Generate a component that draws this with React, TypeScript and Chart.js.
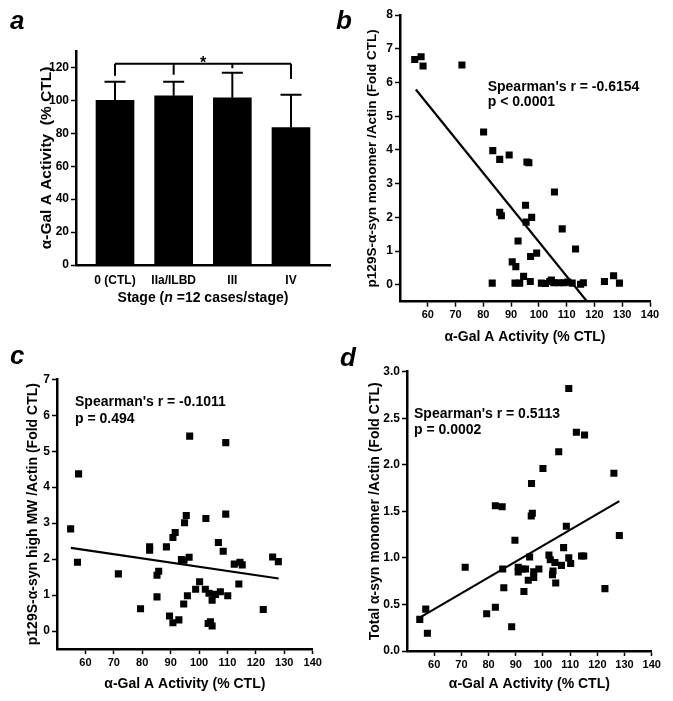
import React, { useEffect, useRef } from 'react';
import { Chart, registerables } from 'chart.js';

Chart.register(...registerables);

const FONT = "'Liberation Sans', Arial, Helvetica, sans-serif";
Chart.defaults.font.family = FONT;
Chart.defaults.font.weight = 'bold';
Chart.defaults.color = '#000';

// ---------- Panel a ----------
const stages = ['0 (CTL)', 'IIa/ILBD', 'III', 'IV'];
const stagePos = [1, 2, 3, 4];
const stageMeans = [100, 102.8, 101.6, 83.5];
const stageErr = [11.3, 8.5, 15.2, 19.9];
const aYTicks = [0, 10, 20, 30, 40, 50, 60, 70, 80, 90, 100, 110, 120, 130];
const bracketLevel = 122.2;
const bracketDrops = [115, 115.5, 119.5, 113];
const starLevel = 125;

// ---------- Panel b ----------
const bX = [55.3, 57.6, 58.3, 72.3, 80.1, 83.4, 85.9, 89.3, 95.7, 96.4, 105.6, 95.2, 85.9, 86.5, 95.4, 97.4, 108.4, 92.5, 113.2, 90.4, 91.7, 97.0, 99.2, 83.2, 91.4, 93.1, 94.5, 96.9, 100.9, 102.4, 103.9, 104.5, 105.4, 107.2, 109.0, 110.4, 112.0, 115.0, 116.0, 123.6, 126.9, 129.0];
const bY = [6.68, 6.76, 6.49, 6.52, 4.53, 3.98, 3.72, 3.85, 3.64, 3.62, 2.75, 2.36, 2.15, 2.05, 1.86, 2.0, 1.66, 1.30, 1.06, 0.68, 0.54, 0.84, 0.94, 0.05, 0.05, 0.05, 0.25, 0.1, 0.05, 0.04, 0.1, 0.14, 0.06, 0.06, 0.06, 0.08, 0.05, 0.02, 0.06, 0.1, 0.27, 0.05];
const bFitX = [55.7, 117.4];
const bFitY = [5.79, -0.5];
const bYTicks = [0, 1, 2, 3, 4, 5, 6, 7, 8];

// ---------- Panel c ----------
const cX = [54.8, 57.6, 57.2, 71.6, 79.4, 82.6, 82.6, 85.2, 85.8, 85.2, 88.5, 89.6, 90.8, 90.8, 91.6, 92.9, 93.8, 94.6, 94.9, 95.5, 94.7, 95.9, 96.5, 96.7, 98.8, 100.2, 102.2, 102.4, 103.2, 103.5, 104.0, 104.6, 104.6, 105.8, 106.8, 107.5, 108.5, 109.4, 109.4, 110.1, 112.4, 114.0, 114.4, 115.2, 122.6, 125.9, 127.9];
const cY = [2.84, 4.37, 1.91, 1.59, 0.62, 2.34, 2.25, 1.55, 1.66, 0.95, 2.34, 0.42, 0.23, 2.60, 2.74, 0.31, 1.99, 0.75, 3.01, 3.21, 1.97, 0.98, 2.05, 5.42, 1.16, 1.37, 1.16, 3.13, 0.21, 1.05, 0.26, 0.14, 0.86, 1.02, 2.46, 1.09, 2.22, 5.24, 3.25, 0.98, 1.86, 1.31, 1.91, 1.84, 0.60, 2.06, 1.93];
const cFitX = [54.9, 128.0];
const cFitY = [2.31, 1.46];
const cYTicks = [0, 1, 2, 3, 4, 5, 6, 7];

// ---------- Panel d ----------
const dX = [54.7, 56.9, 57.5, 71.4, 79.3, 82.5, 82.5, 85.0, 85.2, 85.6, 88.5, 89.7, 90.9, 90.9, 92.4, 93.6, 93.0, 94.6, 95.1, 95.7, 96.1, 95.8, 96.6, 96.6, 98.5, 100.0, 102.2, 102.7, 103.5, 103.7, 104.4, 104.7, 105.8, 106.8, 107.6, 108.6, 109.5, 109.5, 110.2, 112.3, 114.2, 115.0, 115.3, 122.8, 126.1, 128.1];
const dY = [0.34, 0.45, 0.19, 0.90, 0.40, 0.47, 1.56, 1.55, 0.88, 0.68, 0.26, 1.19, 0.90, 0.85, 0.88, 0.88, 0.64, 0.76, 1.01, 1.45, 1.48, 1.80, 0.85, 0.79, 0.88, 1.96, 1.03, 0.98, 0.82, 0.86, 0.95, 0.73, 2.14, 0.92, 1.11, 1.34, 2.82, 1.00, 0.94, 2.35, 1.02, 1.02, 2.32, 0.67, 1.91, 1.24];
const dFitX = [54.2, 128.1];
const dFitY = [0.35, 1.61];
const dYTicks = [0, 0.5, 1, 1.5, 2, 2.5, 3];

const activityTicks = [60, 70, 80, 90, 100, 110, 120, 130, 140];
const activityTitle = 'α-Gal A Activity (% CTL)';

const fixedW = (w: number) => (s: any) => { s.width = w; };
const fixedH = (h: number) => (s: any) => { s.height = h; };
const setTicks = (vals: number[]) => (s: any) => { s.ticks = vals.map((v) => ({ value: v })); };

const errorPlugin = {
  id: 'errAndBracket',
  afterDatasetsDraw(chart: any) {
    const { ctx, scales } = chart;
    const xs = scales.x, ys = scales.y;
    ctx.save();
    ctx.strokeStyle = '#000';
    ctx.lineWidth = 2;
    stagePos.forEach((p, i) => {
      const x = xs.getPixelForValue(p);
      const y0 = ys.getPixelForValue(stageMeans[i]);
      const y1 = ys.getPixelForValue(stageMeans[i] + stageErr[i]);
      ctx.beginPath();
      ctx.moveTo(x, y0);
      ctx.lineTo(x, y1);
      ctx.moveTo(x - 10.5, y1);
      ctx.lineTo(x + 10.5, y1);
      ctx.stroke();
    });
    const yb = ys.getPixelForValue(bracketLevel);
    ctx.beginPath();
    ctx.moveTo(xs.getPixelForValue(stagePos[0]), yb);
    ctx.lineTo(xs.getPixelForValue(stagePos[3]), yb);
    stagePos.forEach((p, i) => {
      const x = xs.getPixelForValue(p);
      ctx.moveTo(x, yb);
      ctx.lineTo(x, ys.getPixelForValue(bracketDrops[i]));
    });
    ctx.stroke();
    ctx.fillStyle = '#000';
    ctx.font = `bold 16px ${FONT}`;
    ctx.textAlign = 'center';
    ctx.textBaseline = 'alphabetic';
    ctx.fillText('*', xs.getPixelForValue(2.5), ys.getPixelForValue(starLevel) + 9);
    ctx.restore();
  },
};

function barConfig(): any {
  return {
    type: 'bar',
    data: {
      datasets: [
        {
          data: stagePos.map((x, i) => ({ x, y: stageMeans[i] })),
          backgroundColor: '#000',
          borderWidth: 0,
          barThickness: 38,
        },
      ],
    },
    options: {
      animation: false,
      responsive: false,
      devicePixelRatio: 1,
      layout: { padding: { left: 33.2, top: 51, right: 10, bottom: 35 } },
      plugins: { legend: { display: false }, tooltip: { enabled: false } },
      scales: {
        x: {
          type: 'linear',
          offset: false,
          min: 0.335,
          max: 4.665,
          afterBuildTicks: setTicks(stagePos),
          afterFit: fixedH(30),
          grid: { display: false, drawTicks: false },
          border: { display: true, color: '#000', width: 2.5 },
          ticks: {
            padding: 8,
            autoSkip: false,
            maxRotation: 0,
            font: { size: 12, weight: 'bold' },
            color: '#000',
            callback: (v: number) => stages[stagePos.indexOf(v)] ?? '',
          },
        },
        y: {
          min: 0,
          max: 130,
          afterBuildTicks: setTicks(aYTicks),
          afterFit: fixedW(42.8),
          grid: { drawOnChartArea: false, drawTicks: true, tickLength: 5, tickColor: '#000', tickWidth: 1.5 },
          border: { color: '#000', width: 2.5 },
          ticks: {
            padding: 2,
            font: { size: 12, weight: 'bold' },
            color: '#000',
            callback: (v: number) => (v % 20 === 0 ? String(v) : ''),
          },
          title: {
            display: true,
            text: 'α-Gal A Activity  (% CTL)',
            font: { size: 15.5, weight: 'bold' },
            color: '#000',
            padding: { top: 4, bottom: 4 },
          },
        },
      },
    },
    plugins: [errorPlugin],
  };
}

function scatterConfig(o: {
  xs: number[]; ys: number[]; fx: number[]; fy: number[];
  yMin: number; yMax: number; yTicks: number[]; yTitle: string; yTitleSize: number;
  pad: { left: number; top: number; right: number; bottom: number };
  yW: number; xH: number; dec: number;
}): any {
  return {
    type: 'scatter',
    data: {
      datasets: [
        {
          data: o.xs.map((x, i) => ({ x, y: o.ys[i] })),
          pointStyle: 'rect',
          pointRadius: 5,
          backgroundColor: '#000',
          borderWidth: 0,
          showLine: false,
        },
        {
          data: o.fx.map((x, i) => ({ x, y: o.fy[i] })),
          showLine: true,
          borderColor: '#000',
          borderWidth: 2.2,
          pointRadius: 0,
          fill: false,
        },
      ],
    },
    options: {
      animation: false,
      responsive: false,
      devicePixelRatio: 1,
      layout: { padding: o.pad },
      plugins: { legend: { display: false }, tooltip: { enabled: false } },
      scales: {
        x: {
          type: 'linear',
          offset: false,
          min: 50,
          max: 140,
          afterBuildTicks: setTicks(activityTicks),
          afterFit: fixedH(o.xH),
          grid: { drawOnChartArea: false, drawTicks: true, tickLength: 5, tickColor: '#000', tickWidth: 1.5 },
          border: { color: '#000', width: 2.5 },
          ticks: { padding: 2, autoSkip: false, maxRotation: 0, font: { size: 11, weight: 'bold' }, color: '#000' },
          title: {
            display: true,
            text: activityTitle,
            font: { size: 14, weight: 'bold' },
            color: '#000',
            padding: { top: 4, bottom: 4 },
          },
        },
        y: {
          min: o.yMin,
          max: o.yMax,
          afterBuildTicks: setTicks(o.yTicks),
          afterFit: fixedW(o.yW),
          grid: { drawOnChartArea: false, drawTicks: true, tickLength: 5, tickColor: '#000', tickWidth: 1.5 },
          border: { color: '#000', width: 2.5 },
          ticks: {
            padding: 2,
            font: { size: 12, weight: 'bold' },
            color: '#000',
            callback: (v: number) => v.toFixed(o.dec),
          },
          title: {
            display: true,
            text: o.yTitle,
            font: { size: o.yTitleSize, weight: 'bold' },
            color: '#000',
            padding: { top: 4, bottom: 4 },
          },
        },
      },
    },
  };
}

function ChartCanvas(props: { left: number; top: number; width: number; height: number; make: () => any }) {
  const ref = useRef<HTMLCanvasElement | null>(null);
  useEffect(() => {
    const chart = new Chart(ref.current as HTMLCanvasElement, props.make());
    return () => chart.destroy();
  }, []);
  return (
    <canvas
      ref={ref}
      width={props.width}
      height={props.height}
      style={{ position: 'absolute', left: props.left, top: props.top, width: props.width, height: props.height }}
    />
  );
}

function Txt(props: { x: number; cy: number; size: number; children: any; center?: boolean }) {
  return (
    <div
      style={{
        position: 'absolute',
        left: props.x,
        top: props.cy - props.size * 0.49,
        fontFamily: FONT,
        fontWeight: 'bold',
        fontSize: props.size,
        lineHeight: 1,
        whiteSpace: 'nowrap',
        color: '#000',
        transform: props.center ? 'translateX(-50%)' : undefined,
      }}
    >
      {props.children}
    </div>
  );
}

function Label(props: { x: number; top: number; children: any }) {
  return (
    <div
      style={{
        position: 'absolute',
        left: props.x,
        top: props.top,
        fontFamily: FONT,
        fontWeight: 'bold',
        fontStyle: 'italic',
        fontSize: 26,
        lineHeight: 1,
        color: '#000',
      }}
    >
      {props.children}
    </div>
  );
}

export default function App() {
  return (
    <div style={{ position: 'absolute', left: 0, top: 0, width: 673, height: 701, background: '#fff', overflow: 'hidden' }}>
      <ChartCanvas left={0} top={0} width={340} height={330} make={barConfig} />
      <ChartCanvas
        left={335}
        top={0}
        width={338}
        height={350}
        make={() =>
          scatterConfig({
            xs: bX, ys: bY, fx: bFitX, fy: bFitY,
            yMin: -0.5, yMax: 8, yTicks: bYTicks,
            yTitle: 'p129S-α-syn monomer /Actin (Fold CTL)', yTitleSize: 13.5,
            pad: { left: 25.6, top: 15, right: 23, bottom: 0.6 },
            yW: 39.4, xH: 47.7, dec: 0,
          })
        }
      />
      <ChartCanvas
        left={0}
        top={340}
        width={335}
        height={361}
        make={() =>
          scatterConfig({
            xs: cX, ys: cY, fx: cFitX, fy: cFitY,
            yMin: -0.5, yMax: 7, yTicks: cYTicks,
            yTitle: 'p129S-α-syn high MW /Actin (Fold CTL)', yTitleSize: 14,
            pad: { left: 20.9, top: 39.3, right: 22.3, bottom: 4.3 },
            yW: 36.1, xH: 47.7, dec: 0,
          })
        }
      />
      <ChartCanvas
        left={335}
        top={340}
        width={338}
        height={361}
        make={() =>
          scatterConfig({
            xs: dX, ys: dY, fx: dFitX, fy: dFitY,
            yMin: 0, yMax: 3, yTicks: dYTicks,
            yTitle: 'Total α-syn monomer /Actin (Fold CTL)', yTitleSize: 14,
            pad: { left: 27.6, top: 31.7, right: 21.3, bottom: 4.3 },
            yW: 44.4, xH: 45.7, dec: 1,
          })
        }
      />

      <Txt x={203} cy={297} size={14} center>
        Stage (<i>n</i> =12 cases/stage)
      </Txt>

      <Txt x={487.7} cy={86} size={14}>Spearman's r = -0.6154</Txt>
      <Txt x={487.7} cy={101} size={14}>p &lt; 0.0001</Txt>
      <Txt x={75} cy={400.7} size={14}>Spearman's r = -0.1011</Txt>
      <Txt x={75} cy={418.3} size={14}>p = 0.494</Txt>
      <Txt x={414} cy={412.7} size={14}>Spearman's r = 0.5113</Txt>
      <Txt x={414} cy={429.3} size={14}>p = 0.0002</Txt>

      <Label x={10} top={7.3}>a</Label>
      <Label x={336} top={6.6}>b</Label>
      <Label x={10} top={341.5}>c</Label>
      <Label x={340} top={344}>d</Label>
    </div>
  );
}
